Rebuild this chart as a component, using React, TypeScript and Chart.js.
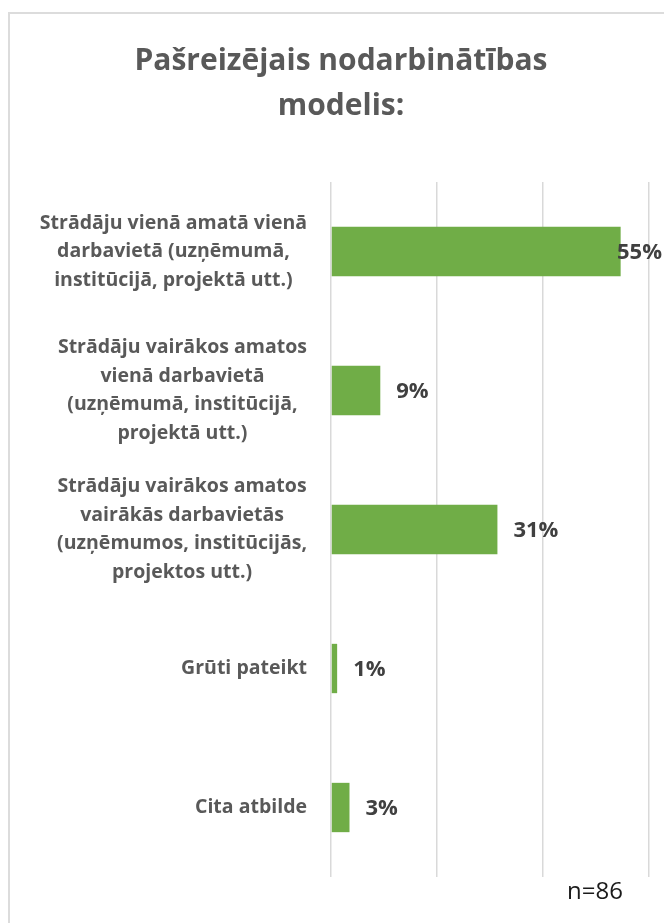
import React, { useEffect, useRef } from "react";
import { Chart, registerables } from "chart.js";

Chart.register(...registerables);

const TITLE_LINES = ["Pašreizējais nodarbinātības", "modelis:"];
const CATEGORIES: string[][] = [
  ["Strādāju vienā amatā vienā", "darbavietā (uzņēmumā,", "institūcijā, projektā utt.)"],
  ["Strādāju vairākos amatos", "vienā darbavietā", "(uzņēmumā, institūcijā,", "projektā utt.)"],
  ["Strādāju vairākos amatos", "vairākās darbavietās", "(uzņēmumos, institūcijās,", "projektos utt.)"],
  ["Grūti pateikt"],
  ["Cita atbilde"],
];
const VALUES = [54.65, 9.3, 31.4, 1.16, 3.49];
const AXIS_MIN = 0;
const AXIS_MAX = 60;
const AXIS_STEP = 20;
const SAMPLE_NOTE = "n=86";

const FONT = "'Open Sans', 'DejaVu Sans', sans-serif";

const labelsPlugin = {
  id: "customLabels",
  afterDraw(chart: any) {
    const ctx = chart.ctx;
    const yScale = chart.scales.y;
    // category labels
    ctx.save();
    ctx.font = `bold 19.5px ${FONT}`;
    ctx.fillStyle = "#595959";
    ctx.textAlign = "center";
    ctx.textBaseline = "middle";
    const lineH = 28.5;
    const rightEdge = 307;
    CATEGORIES.forEach((lines, i) => {
      const yc = yScale.getPixelForValue(i);
      const widest = Math.max(...lines.map((l) => ctx.measureText(l).width));
      const cx = rightEdge - widest / 2;
      const startY = yc - ((lines.length - 1) * lineH) / 2;
      lines.forEach((l, j) => ctx.fillText(l, cx, startY + j * lineH));
    });
    ctx.restore();

    // data labels
    ctx.save();
    ctx.font = `bold 22px ${FONT}`;
    ctx.fillStyle = "#404040";
    ctx.textAlign = "left";
    ctx.textBaseline = "middle";
    const meta = chart.getDatasetMeta(0);
    meta.data.forEach((bar: any, i: number) => {
      const txt = Math.round(VALUES[i]) + "%";
      const w = ctx.measureText(txt).width;
      let x = bar.x + 16;
      if (x + w > chart.width - 2) x = chart.width - 2 - w;
      ctx.fillText(txt, x, bar.y + 1);
    });
    ctx.restore();

    // sample note
    ctx.save();
    ctx.font = `24px ${FONT}`;
    ctx.fillStyle = "#1a1a1a";
    ctx.textAlign = "left";
    ctx.textBaseline = "middle";
    ctx.fillText(SAMPLE_NOTE, 567, 892);
    ctx.restore();
  },
};

export default function App() {
  const canvasRef = useRef<HTMLCanvasElement | null>(null);

  useEffect(() => {
    if (!canvasRef.current) return;
    const chart = new Chart(canvasRef.current, {
      type: "bar",
      data: {
        labels: CATEGORIES.map((c) => c.join(" ")),
        datasets: [
          {
            data: VALUES,
            backgroundColor: "#70AD47",
            borderWidth: 0,
            categoryPercentage: 1,
            barPercentage: 0.355,
          },
        ],
      },
      options: {
        indexAxis: "y",
        animation: false,
        responsive: false,
        maintainAspectRatio: false,
        layout: { padding: { left: 33, right: 15, top: 0, bottom: 46 } },
        plugins: {
          legend: { display: false },
          tooltip: { enabled: false },
          title: {
            display: true,
            text: TITLE_LINES,
            color: "#595959",
            font: { family: FONT, size: 30, weight: "bold", lineHeight: 1.5 },
            padding: { top: 39, bottom: 53 },
          },
        },
        scales: {
          x: {
            min: AXIS_MIN,
            max: AXIS_MAX,
            ticks: { display: false, stepSize: AXIS_STEP },
            grid: { color: "#d9d9d9", lineWidth: 1.5, drawTicks: false },
            border: { display: false },
            afterFit: (s: any) => {
              s.height = 0;
            },
          },
          y: {
            ticks: { display: false },
            grid: { display: false, drawTicks: false },
            border: { display: false },
            afterFit: (s: any) => {
              s.width = 298;
            },
          },
        },
      },
      plugins: [labelsPlugin],
    });
    return () => chart.destroy();
  }, []);

  return (
    <div
      style={{
        position: "absolute",
        left: 0,
        top: 0,
        width: 664,
        height: 923,
        overflow: "hidden",
        background: "#ffffff",
      }}
    >
      <div
        style={{
          position: "absolute",
          left: 8,
          top: 12,
          width: 720,
          height: 1000,
          borderLeft: "2px solid #dcdcdc",
          borderTop: "2px solid #dcdcdc",
        }}
      />
      <canvas
        ref={canvasRef}
        width={664}
        height={923}
        style={{ position: "absolute", left: 0, top: 0, width: 664, height: 923 }}
      />
    </div>
  );
}
